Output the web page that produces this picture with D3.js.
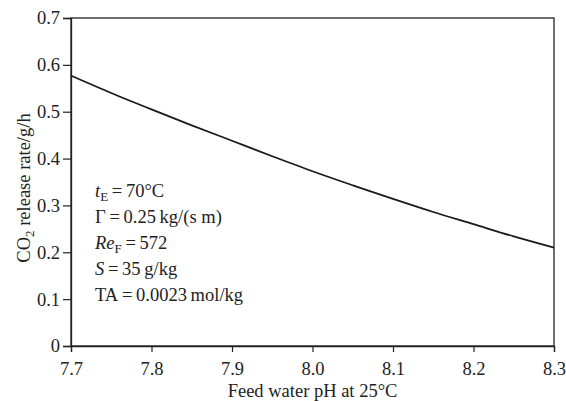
<!DOCTYPE html>
<html><head><meta charset="utf-8">
<script src="https://cdn.jsdelivr.net/npm/d3@7"></script>
<style>
html,body{margin:0;padding:0;background:#fff;}
svg text{font-family:"Liberation Serif","Times New Roman",serif !important;fill:#222;}
</style></head>
<body>
<svg id="chart" width="566" height="401" font-family="Liberation Serif"></svg>
<script>
const pH = [7.7, 7.75, 7.8, 7.85, 7.9, 7.95, 8.0, 8.05, 8.1, 8.15, 8.2, 8.25, 8.3];
const co2Rate = [0.577, 0.540, 0.505, 0.471, 0.438, 0.405, 0.373, 0.343, 0.314, 0.286, 0.260, 0.234, 0.210];
const xTicks = [7.7, 7.8, 7.9, 8.0, 8.1, 8.2, 8.3];
const yTicks = [0, 0.1, 0.2, 0.3, 0.4, 0.5, 0.6, 0.7];

const svg = d3.select("#chart");
const L = 71, R = 554, T = 18, B = 346;
const FS = 18.5;
const TH = "\u2009";
const x = d3.scaleLinear().domain([7.7, 8.3]).range([L, R]);
const y = d3.scaleLinear().domain([0, 0.7]).range([B, T]);

// frame
svg.append("rect").attr("x", L).attr("y", T).attr("width", R - L).attr("height", B - T)
  .attr("fill", "none").attr("stroke", "#222").attr("stroke-width", 1.3);

const xAxis = svg.append("g").attr("transform", `translate(0,${B})`)
  .call(d3.axisBottom(x).tickValues(xTicks).tickFormat(d3.format(".1f")).tickSize(6).tickPadding(10));
const yAxis = svg.append("g").attr("transform", `translate(${L},0)`)
  .call(d3.axisLeft(y).tickValues(yTicks).tickFormat(d => d === 0 ? "0" : d3.format(".1f")(d)).tickSize(8).tickPadding(3));
[xAxis, yAxis].forEach(a => {
  a.attr("font-family", "Liberation Serif").attr("font-size", FS);
  a.select(".domain").attr("stroke", "#222").attr("stroke-width", 1.3);
  a.selectAll(".tick line").attr("stroke", "#222").attr("stroke-width", 1.2);
  a.selectAll(".tick text").attr("font-family", "Liberation Serif").style("font-size", FS + "px").style("fill", "#222");
});

// curve
const line = d3.line().x((d, i) => x(pH[i])).y(d => y(d)).curve(d3.curveMonotoneX);
svg.append("path").datum(co2Rate).attr("d", line)
  .attr("fill", "none").attr("stroke", "#1a1a1a").attr("stroke-width", 1.8);

// x title
svg.append("text").attr("x", (L + R) / 2).attr("y", 397).attr("text-anchor", "middle")
  .style("font-size", FS + "px").text("Feed water pH at 25°C");

// y title
const yt = svg.append("text").attr("transform", `translate(30,188) rotate(-90)`)
  .attr("text-anchor", "middle").style("font-size", FS + "px");
yt.append("tspan").text("CO");
yt.append("tspan").style("font-size", (FS * 0.7) + "px").attr("dy", 4).text("2");
yt.append("tspan").attr("dy", -4).text(" release rate/g/h");

// annotations
const ann = svg.append("g");
const ax = 95;
const base = [197, 223, 249, 275, 301];
let t1 = ann.append("text").attr("x", ax).attr("y", base[0]).style("font-size", FS + "px");
t1.append("tspan").attr("font-style", "italic").text("t");
t1.append("tspan").style("font-size", (FS * 0.7) + "px").attr("dy", 4).text("E");
t1.append("tspan").attr("dy", -4).text(TH + "=" + TH + "70°C");
ann.append("text").attr("x", ax).attr("y", base[1]).style("font-size", FS + "px")
  .text("Γ" + TH + "=" + TH + "0.25" + TH + "kg/(s m)");
let t3 = ann.append("text").attr("x", ax).attr("y", base[2]).style("font-size", FS + "px");
t3.append("tspan").attr("font-style", "italic").text("Re");
t3.append("tspan").style("font-size", (FS * 0.7) + "px").attr("dy", 4).text("F");
t3.append("tspan").attr("dy", -4).text(TH + "=" + TH + "572");
let t4 = ann.append("text").attr("x", ax).attr("y", base[3]).style("font-size", FS + "px");
t4.append("tspan").attr("font-style", "italic").text("S");
t4.append("tspan").text(TH + "=" + TH + "35" + TH + "g/kg");
ann.append("text").attr("x", ax).attr("y", base[4]).style("font-size", FS + "px")
  .text("TA" + TH + "=" + TH + "0.0023" + TH + "mol/kg");
</script>
</body></html>
